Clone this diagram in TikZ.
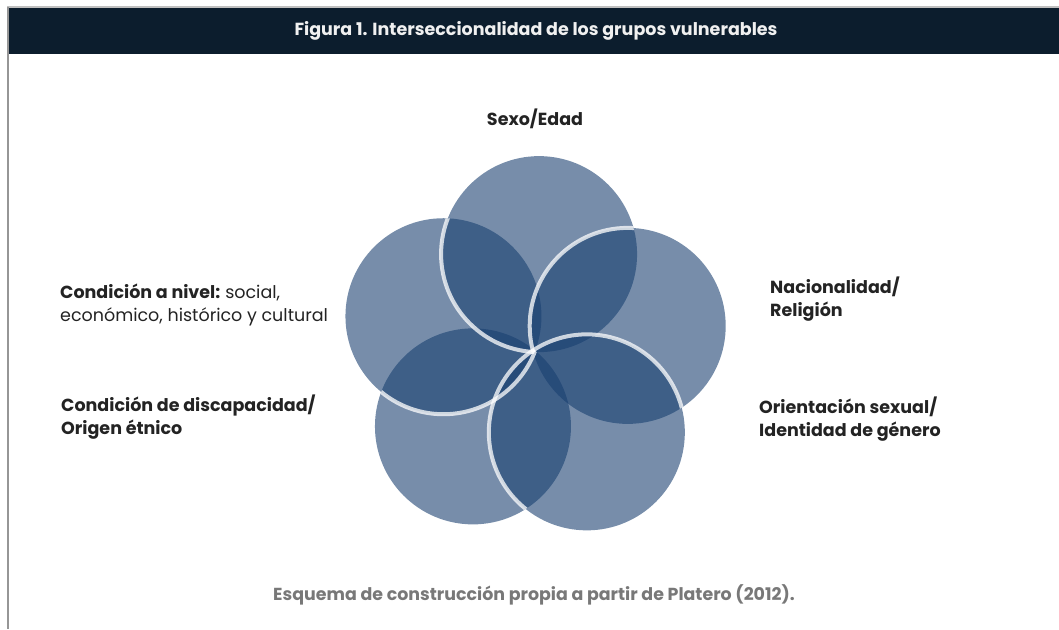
\documentclass[tikz,border=0pt]{standalone}
\usepackage{fontspec}
\setmainfont{Poppins}
\definecolor{headbar}{RGB}{12, 29, 45}
\definecolor{petalblue}{RGB}{23, 62, 111}
\definecolor{ink}{RGB}{35, 35, 35}
\definecolor{muted}{RGB}{120, 120, 120}
\definecolor{framegray}{RGB}{150, 150, 150}
\usetikzlibrary{calc,positioning}
\newcommand{\lighttext}[1]{{\mdseries #1}}

\begin{document}
\begin{tikzpicture}[x=1pt, y=1pt,
    petal/.style={fill=petalblue, fill opacity=0.59},
    rim/.style={draw=white, draw opacity=0.75, line width=4pt},
    lbl/.style={anchor=base west, inner sep=0pt, align=left, text=ink,
                font=\fontsize{17.5}{23}\selectfont\bfseries}]
    \useasboundingbox (0,0) rectangle (1059,629);
    % frame and title bar
    \fill[headbar] (8,575) rectangle (1059,621);
    \draw[framegray!60, line width=1.5pt] (7,622) -- (1059,622);
    \draw[framegray, line width=1.5pt] (8,622) -- (8,0);
    \node[anchor=base, inner sep=0pt, text=white!94!black,
          font=\fontsize{17.5}{20}\selectfont\bfseries] (title) at (536,593)
        {Figura 1. Interseccionalidad de los grupos vulnerables};

    % the five circles
    \coordinate (ctr) at (534,278);
    \coordinate (sexo) at ($(ctr)+(87:97)$);
    \coordinate (nacion) at ($(ctr)+(15:97)$);
    \coordinate (orient) at ($(ctr)+(-57:97)$);
    \coordinate (discap) at ($(ctr)+(-129:97)$);
    \coordinate (nivel) at ($(ctr)+(159:97)$);
    \foreach \c in {discap,nivel,sexo,nacion,orient}
        \fill[petal] (\c) circle (98);

    % light rims
    \begin{scope}
        \clip (discap) circle (98);
        \draw[rim] (nivel) circle (98);
        \draw[rim] (orient) circle (98);
    \end{scope}
    \begin{scope}
        \clip (nivel) circle (98);
        \draw[rim] (sexo) circle (98);
    \end{scope}
    \begin{scope}
        \clip (sexo) circle (98);
        \draw[rim] (nacion) circle (98);
    \end{scope}
    \begin{scope}
        \clip (nacion) circle (98);
        \draw[rim] (orient) circle (98);
    \end{scope}

    % labels (multi-line ones sit on their last line)
    \node[lbl, anchor=base] (sexoLbl) at (535,503) {Sexo/Edad};
    \node[lbl] (nivelLbl) at (60,307)
        {Condición a nivel: \lighttext{social,}\\\lighttext{económico, histórico y cultural}};
    \node[lbl] (discapLbl) at (61,194) {Condición de discapacidad/\\Origen étnico};
    \node[lbl] (nacionLbl) at (770,312) {Nacionalidad/\\Religión};
    \node[lbl] (orientLbl) at (759,192) {Orientación sexual/\\Identidad de género};

    \node[anchor=base, inner sep=0pt, text=muted,
          font=\fontsize{17.4}{20}\selectfont\bfseries] (fuente) at (534,29)
        {Esquema de construcción propia a partir de Platero (2012).};
\end{tikzpicture}
\end{document}
